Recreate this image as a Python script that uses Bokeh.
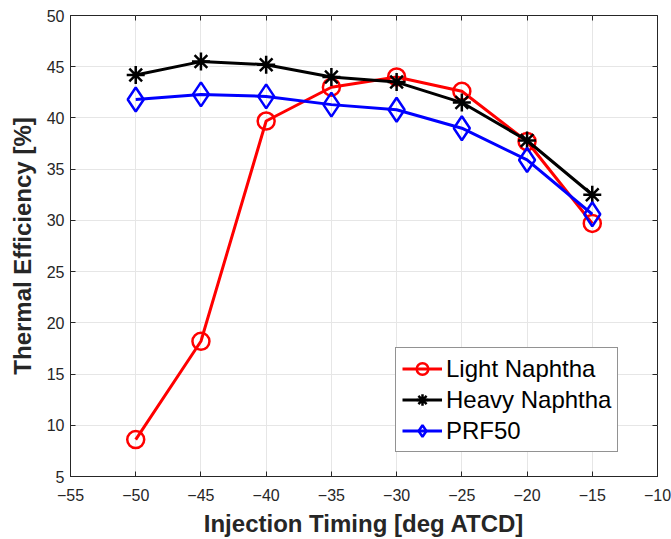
from bokeh.plotting import figure
from bokeh.models import LinearAxis, FixedTicker, Range1d, Legend, LegendItem
from bokeh.embed import file_html
from bokeh.resources import INLINE

timing = [-50, -45, -40, -35, -30, -25, -20, -15]
light_naphtha = [8.6, 18.2, 39.7, 43.0, 44.0, 42.6, 37.7, 29.7]
heavy_naphtha = [44.2, 45.5, 45.2, 44.0, 43.5, 41.5, 37.8, 32.5]
prf50 = [41.8, 42.3, 42.1, 41.3, 40.8, 39.0, 35.9, 30.6]
x_ticks = list(range(-55, -9, 5))
y_ticks = list(range(5, 51, 5))

FONT = "Liberation Sans"
AX = "#262626"

p = figure(width=671, height=539, output_backend="svg", toolbar_location=None,
           x_range=Range1d(-55, -10), y_range=Range1d(5, 50),
           min_border_left=70, min_border_right=14, min_border_top=15, min_border_bottom=63)
p.background_fill_color = "white"
p.border_fill_color = "white"
p.outline_line_color = AX
p.outline_line_width = 1

for ax in (p.xaxis[0], p.yaxis[0]):
    ax.axis_line_color = AX
    ax.major_tick_line_color = AX
    ax.major_tick_in = 5
    ax.major_tick_out = 0
    ax.minor_tick_line_color = None
    ax.major_label_text_font = FONT
    ax.major_label_text_font_size = "16px"
    ax.major_label_text_color = AX
    ax.axis_label_text_font = FONT
    ax.axis_label_text_font_size = "24px"
    ax.axis_label_text_font_style = "bold"
    ax.axis_label_text_color = AX

p.xaxis.ticker = FixedTicker(ticks=x_ticks)
p.yaxis.ticker = FixedTicker(ticks=y_ticks)
p.xaxis.axis_label = "Injection Timing [deg ATCD]"
p.yaxis.axis_label = "Thermal Efficiency [%]"
p.xaxis.major_label_standoff = 12
p.yaxis.major_label_standoff = 6
p.xaxis.axis_label_standoff = 6
p.yaxis.axis_label_standoff = 8

# box-style ticks on top and right (no labels)
for ticks, place in ((x_ticks, "above"), (y_ticks, "right")):
    a = LinearAxis(ticker=FixedTicker(ticks=ticks), axis_line_color=None,
                   major_tick_line_color=AX, major_tick_in=5, major_tick_out=0,
                   minor_tick_line_color=None, major_label_text_font_size="0px",
                   major_label_standoff=0, major_label_text_alpha=0)
    p.add_layout(a, place)

p.xgrid.ticker = FixedTicker(ticks=x_ticks)
p.ygrid.ticker = FixedTicker(ticks=y_ticks)
p.grid.grid_line_color = "#e6e6e6"
p.grid.grid_line_width = 1

r1l = p.line(timing, light_naphtha, line_color="red", line_width=3)
r1m = p.scatter(timing, light_naphtha, marker="circle", size=17, fill_color=None,
                line_color="red", line_width=2.5)
r2l = p.line(timing, heavy_naphtha, line_color="black", line_width=3)
r2m = p.scatter(timing, heavy_naphtha, marker="asterisk", size=18,
                line_color="black", line_width=2.5)
r3l = p.line(timing, prf50, line_color="blue", line_width=3)
r3m = p.scatter(timing, prf50, marker="diamond", size=24, fill_color=None,
                line_color="blue", line_width=2.5)

legend = Legend(items=[
    LegendItem(label="Light Naphtha", renderers=[r1l, r1m]),
    LegendItem(label="Heavy Naphtha", renderers=[r2l, r2m]),
    LegendItem(label="PRF50", renderers=[r3l, r3m]),
], location=(325, 24))
legend.label_text_font = FONT
legend.label_text_font_size = "24px"
legend.label_text_color = "black"
legend.glyph_width = 40
legend.glyph_height = 29
legend.label_height = 29
legend.spacing = 2
legend.padding = 6
legend.margin = 0
legend.label_standoff = 4
legend.border_line_color = "#262626"
legend.border_line_width = 1
legend.background_fill_alpha = 1
p.add_layout(legend)

open("out.html", "w").write(file_html(p, INLINE))
